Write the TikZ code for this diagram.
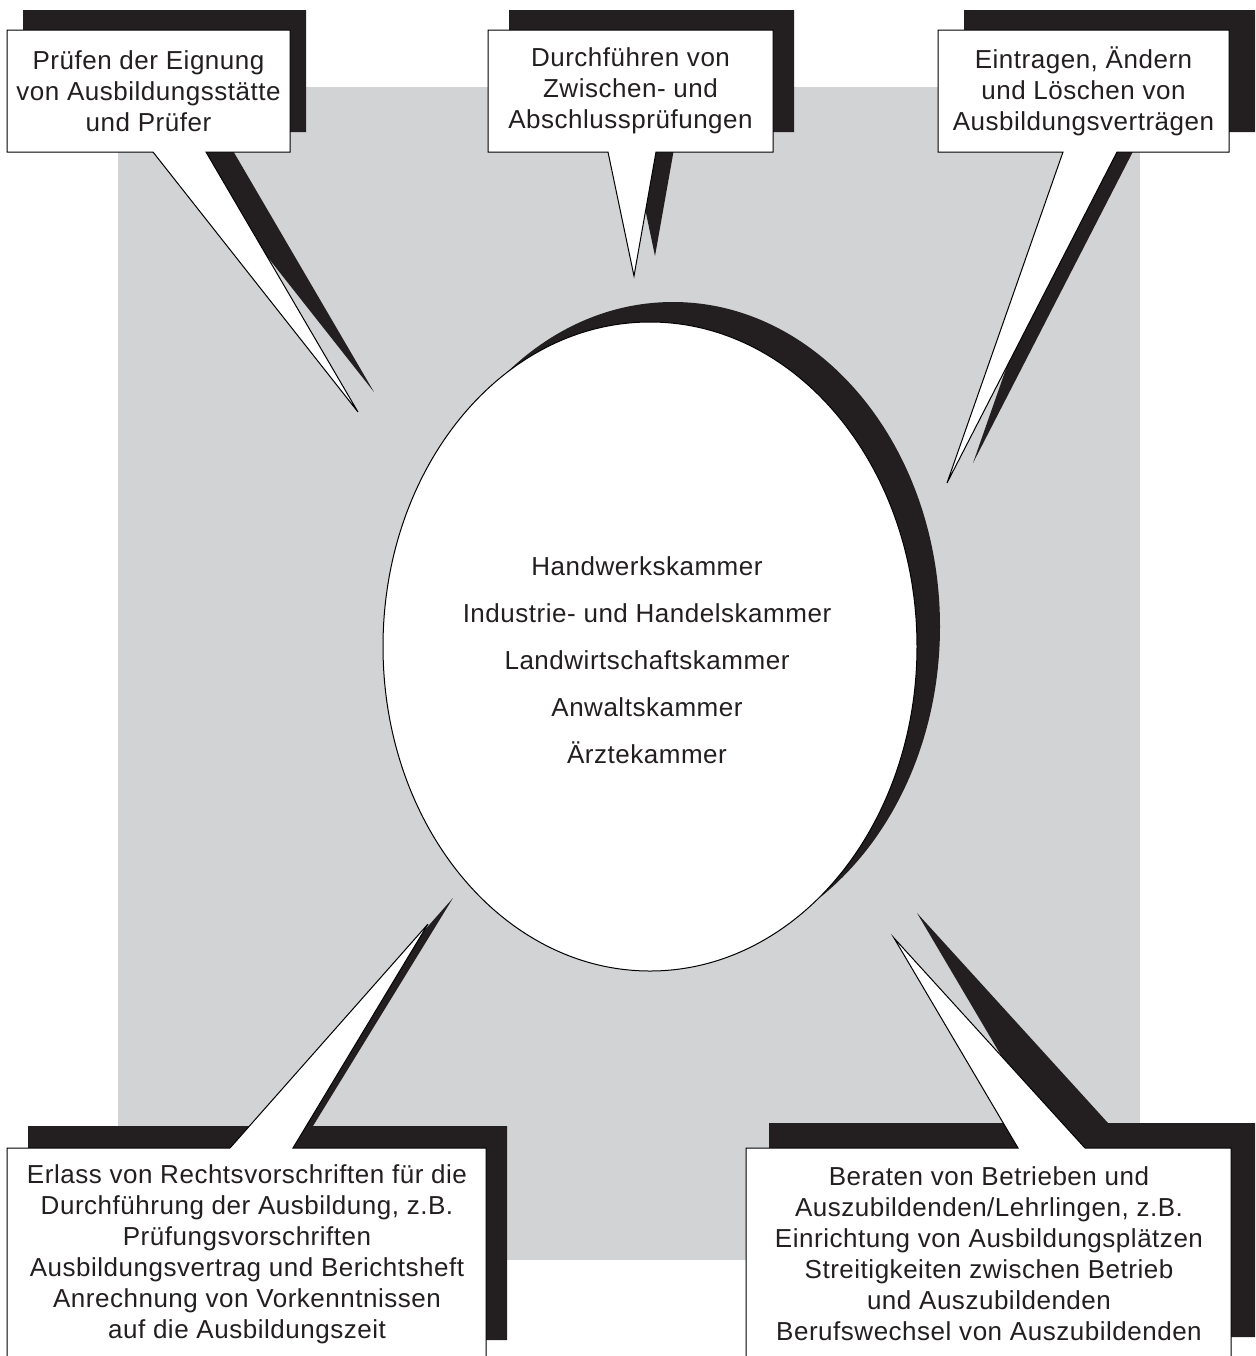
\documentclass[tikz,border=0pt]{standalone}
\usepackage{fontspec}
\setmainfont{Liberation Sans}[LetterSpace=2]
\usetikzlibrary{positioning}
\definecolor{panelgray}{HTML}{D1D3D4}
\definecolor{inkgray}{HTML}{231F20}

\begin{document}
\begin{tikzpicture}[
	x=0.5pt, y=-0.5pt,
	shade/.style={fill=inkgray, draw=none},
	bubble/.style={fill=white, draw=black, line width=0.5pt, line join=miter},
	calltext/.style={align=center, text=inkgray, font=\fontsize{13}{15.5}\selectfont},
	kammertext/.style={align=center, text=inkgray, font=\fontsize{13}{23.5}\selectfont}
	]

	\clip (0,0) rectangle (1255,1356);
	\fill[panelgray] (118,87) rectangle (1140,1260);

	% shadows of the callouts
	\fill[shade] (23,10) -- (306,10) -- (306,132) -- (222,132) -- (374,392) -- (169,132) -- (23,132) -- cycle;
	\fill[shade] (509,10) -- (794,10) -- (794,132) -- (677,132) -- (655,256) -- (629,132) -- (509,132) -- cycle;
	\fill[shade] (964,10) -- (1262,10) -- (1262,132) -- (1143,132) -- (973,463) -- (1089,132) -- (964,132) -- cycle;
	\fill[shade] (28,1126) -- (251,1126) -- (453,898) -- (313,1126) -- (507,1126) -- (507,1340) -- (28,1340) -- cycle;
	\fill[shade] (769,1123) -- (1041,1123) -- (917,913) -- (1108,1123) -- (1262,1123) -- (1262,1337) -- (769,1337) -- cycle;

	% callouts
	\filldraw[bubble] (7,30) -- (290,30) -- (290,152) -- (206,152) -- (358,412) -- (153,152) -- (7,152) -- cycle;
	\filldraw[bubble] (488,30) -- (773,30) -- (773,152) -- (656,152) -- (634,276) -- (608,152) -- (488,152) -- cycle;
	\filldraw[bubble] (938,30) -- (1229,30) -- (1229,152) -- (1117,152) -- (947,483) -- (1063,152) -- (938,152) -- cycle;
	\filldraw[bubble] (7,1148) -- (230,1148) -- (428,924) -- (293,1148) -- (486,1148) -- (486,1362) -- (7,1362) -- cycle;
	\filldraw[bubble] (746,1148) -- (1018,1148) -- (894,938) -- (1085,1148) -- (1231,1148) -- (1231,1362) -- (746,1362) -- cycle;

	% chambers
	\fill[shade] (673,626.5) ellipse [x radius=267, y radius=324.5];
	\filldraw[bubble] (650,646.5) ellipse [x radius=267, y radius=324.5];

	\node[kammertext] (kammern) at (647,660) {Handwerkskammer\\Industrie- und Handelskammer\\Landwirtschaftskammer\\Anwaltskammer\\Ärztekammer};

	\node[calltext] (eignung) at (148.5,91) {Prüfen der Eignung\\von Ausbildungsstätte\\und Prüfer};
	\node[calltext] (pruefung) at (630.5,91) {Durchführen von\\Zwischen- und\\Abschlussprüfungen};
	\node[calltext] (vertrag) at (1083.5,91) {Eintragen, Ändern\\und Löschen von\\Ausbildungsverträgen};
	\node[calltext] (erlass) at (247,1254) {Erlass von Rechtsvorschriften für die\\Durchführung der Ausbildung, z.B.\\Prüfungsvorschriften\\Ausbildungsvertrag und Berichtsheft\\Anrechnung von Vorkenntnissen\\auf die Ausbildungszeit};
	\node[calltext] (beraten) at (989,1254) {Beraten von Betrieben und\\Auszubildenden/Lehrlingen, z.B.\\Einrichtung von Ausbildungsplätzen\\Streitigkeiten zwischen Betrieb\\und Auszubildenden\\Berufswechsel von Auszubildenden};

\end{tikzpicture}
\end{document}
